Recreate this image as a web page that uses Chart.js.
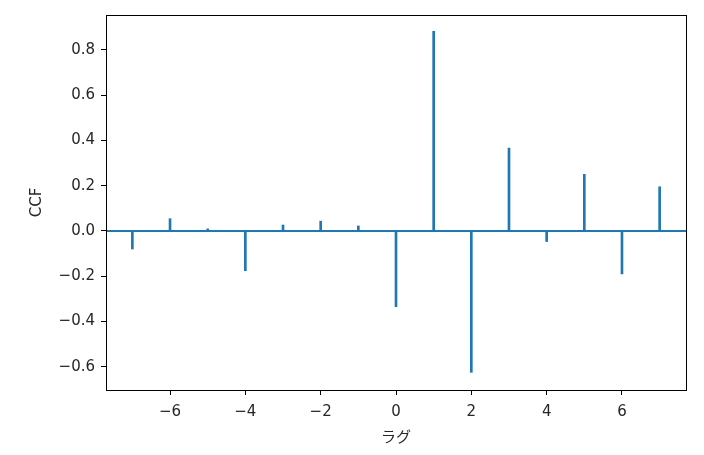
<!DOCTYPE html>
<html>
<head>
<meta charset="utf-8">
<script src="https://cdn.jsdelivr.net/npm/chart.js@4"></script>
<style>
    html, body { margin: 0; padding: 0; background: #fff; }
    #wrap { width: 704px; height: 455px; }
</style>
</head>
<body>
<div id="wrap"><canvas id="ccfChart" width="704" height="455"></canvas></div>
<script>
// lags and cross-correlation values
const lags = [-7, -6, -5, -4, -3, -2, -1, 0, 1, 2, 3, 4, 5, 6, 7];
const ccf = [-0.08, 0.054, 0.009, -0.176, 0.026, 0.043, 0.022, -0.335, 0.882, -0.625, 0.366, -0.047, 0.25, -0.19, 0.195];
const xTicks = [-6, -4, -2, 0, 2, 4, 6];
const yTicks = [-0.6, -0.4, -0.2, 0.0, 0.2, 0.4, 0.6, 0.8];
const xLimits = [-7.7, 7.7];
const yLimits = [-0.703, 0.954];

const blue = '#1f77b4';
const tickFont = { family: 'DejaVu Sans', size: 15 };

function minus(s) {
    return s.replace('-', '\u2212');
}

// matplotlib style frame around the plot area
const frameBox = {
    id: 'frameBox',
    afterDraw(chart) {
        const a = chart.chartArea;
        const ctx = chart.ctx;
        ctx.save();
        ctx.strokeStyle = '#000';
        ctx.lineWidth = 1;
        ctx.strokeRect(Math.round(a.left) + 0.5, Math.round(a.top) + 0.5,
            Math.round(a.right - a.left), Math.round(a.bottom - a.top));
        ctx.restore();
    }
};

document.addEventListener('DOMContentLoaded', function() {
    const ctx = document.getElementById('ccfChart').getContext('2d');
    new Chart(ctx, {
        type: 'bar',
        data: {
            datasets: [
                {
                    type: 'line',
                    label: 'zero',
                    data: [{ x: xLimits[0], y: 0 }, { x: xLimits[1], y: 0 }],
                    borderColor: blue,
                    borderWidth: 2,
                    pointRadius: 0,
                    fill: false
                },
                {
                    label: 'CCF',
                    data: lags.map((l, i) => ({ x: l, y: ccf[i] })),
                    backgroundColor: blue,
                    borderWidth: 0,
                    barThickness: 2
                }
            ]
        },
        options: {
            responsive: false,
            animation: false,
            layout: { padding: { left: 0, right: 18, top: 11, bottom: 0 } },
            plugins: {
                legend: { display: false },
                tooltip: { enabled: false }
            },
            scales: {
                x: {
                    type: 'linear',
                    min: xLimits[0],
                    max: xLimits[1],
                    offset: false,
                    afterBuildTicks: function(scale) {
                        scale.ticks = xTicks.map(v => ({ value: v }));
                    },
                    afterFit: function(scale) { scale.height = 65; },
                    grid: { offset: false, drawOnChartArea: false, drawTicks: true, tickLength: 5, color: '#000' },
                    border: { display: false },
                    ticks: {
                        font: tickFont,
                        color: '#262626',
                        padding: 8,
                        maxRotation: 0,
                        callback: v => minus(String(v))
                    },
                    title: {
                        display: true,
                        text: 'ラグ',
                        font: { family: 'Noto Sans CJK JP', size: 15 },
                        color: '#262626',
                        padding: { top: 0, bottom: 10 }
                    }
                },
                y: {
                    min: yLimits[0],
                    max: yLimits[1],
                    afterBuildTicks: function(scale) {
                        scale.ticks = yTicks.map(v => ({ value: v }));
                    },
                    afterFit: function(scale) { scale.width = 106; },
                    grid: { offset: false, drawOnChartArea: false, drawTicks: true, tickLength: 5, color: '#000' },
                    border: { display: false },
                    ticks: {
                        font: tickFont,
                        color: '#262626',
                        padding: 6,
                        callback: v => minus(v.toFixed(1))
                    },
                    title: {
                        display: true,
                        text: 'CCF',
                        font: { family: 'DejaVu Sans', size: 15 },
                        color: '#262626',
                        padding: { top: 28, bottom: 0 }
                    }
                }
            }
        },
        plugins: [frameBox]
    });
});
</script>
</body>
</html>
